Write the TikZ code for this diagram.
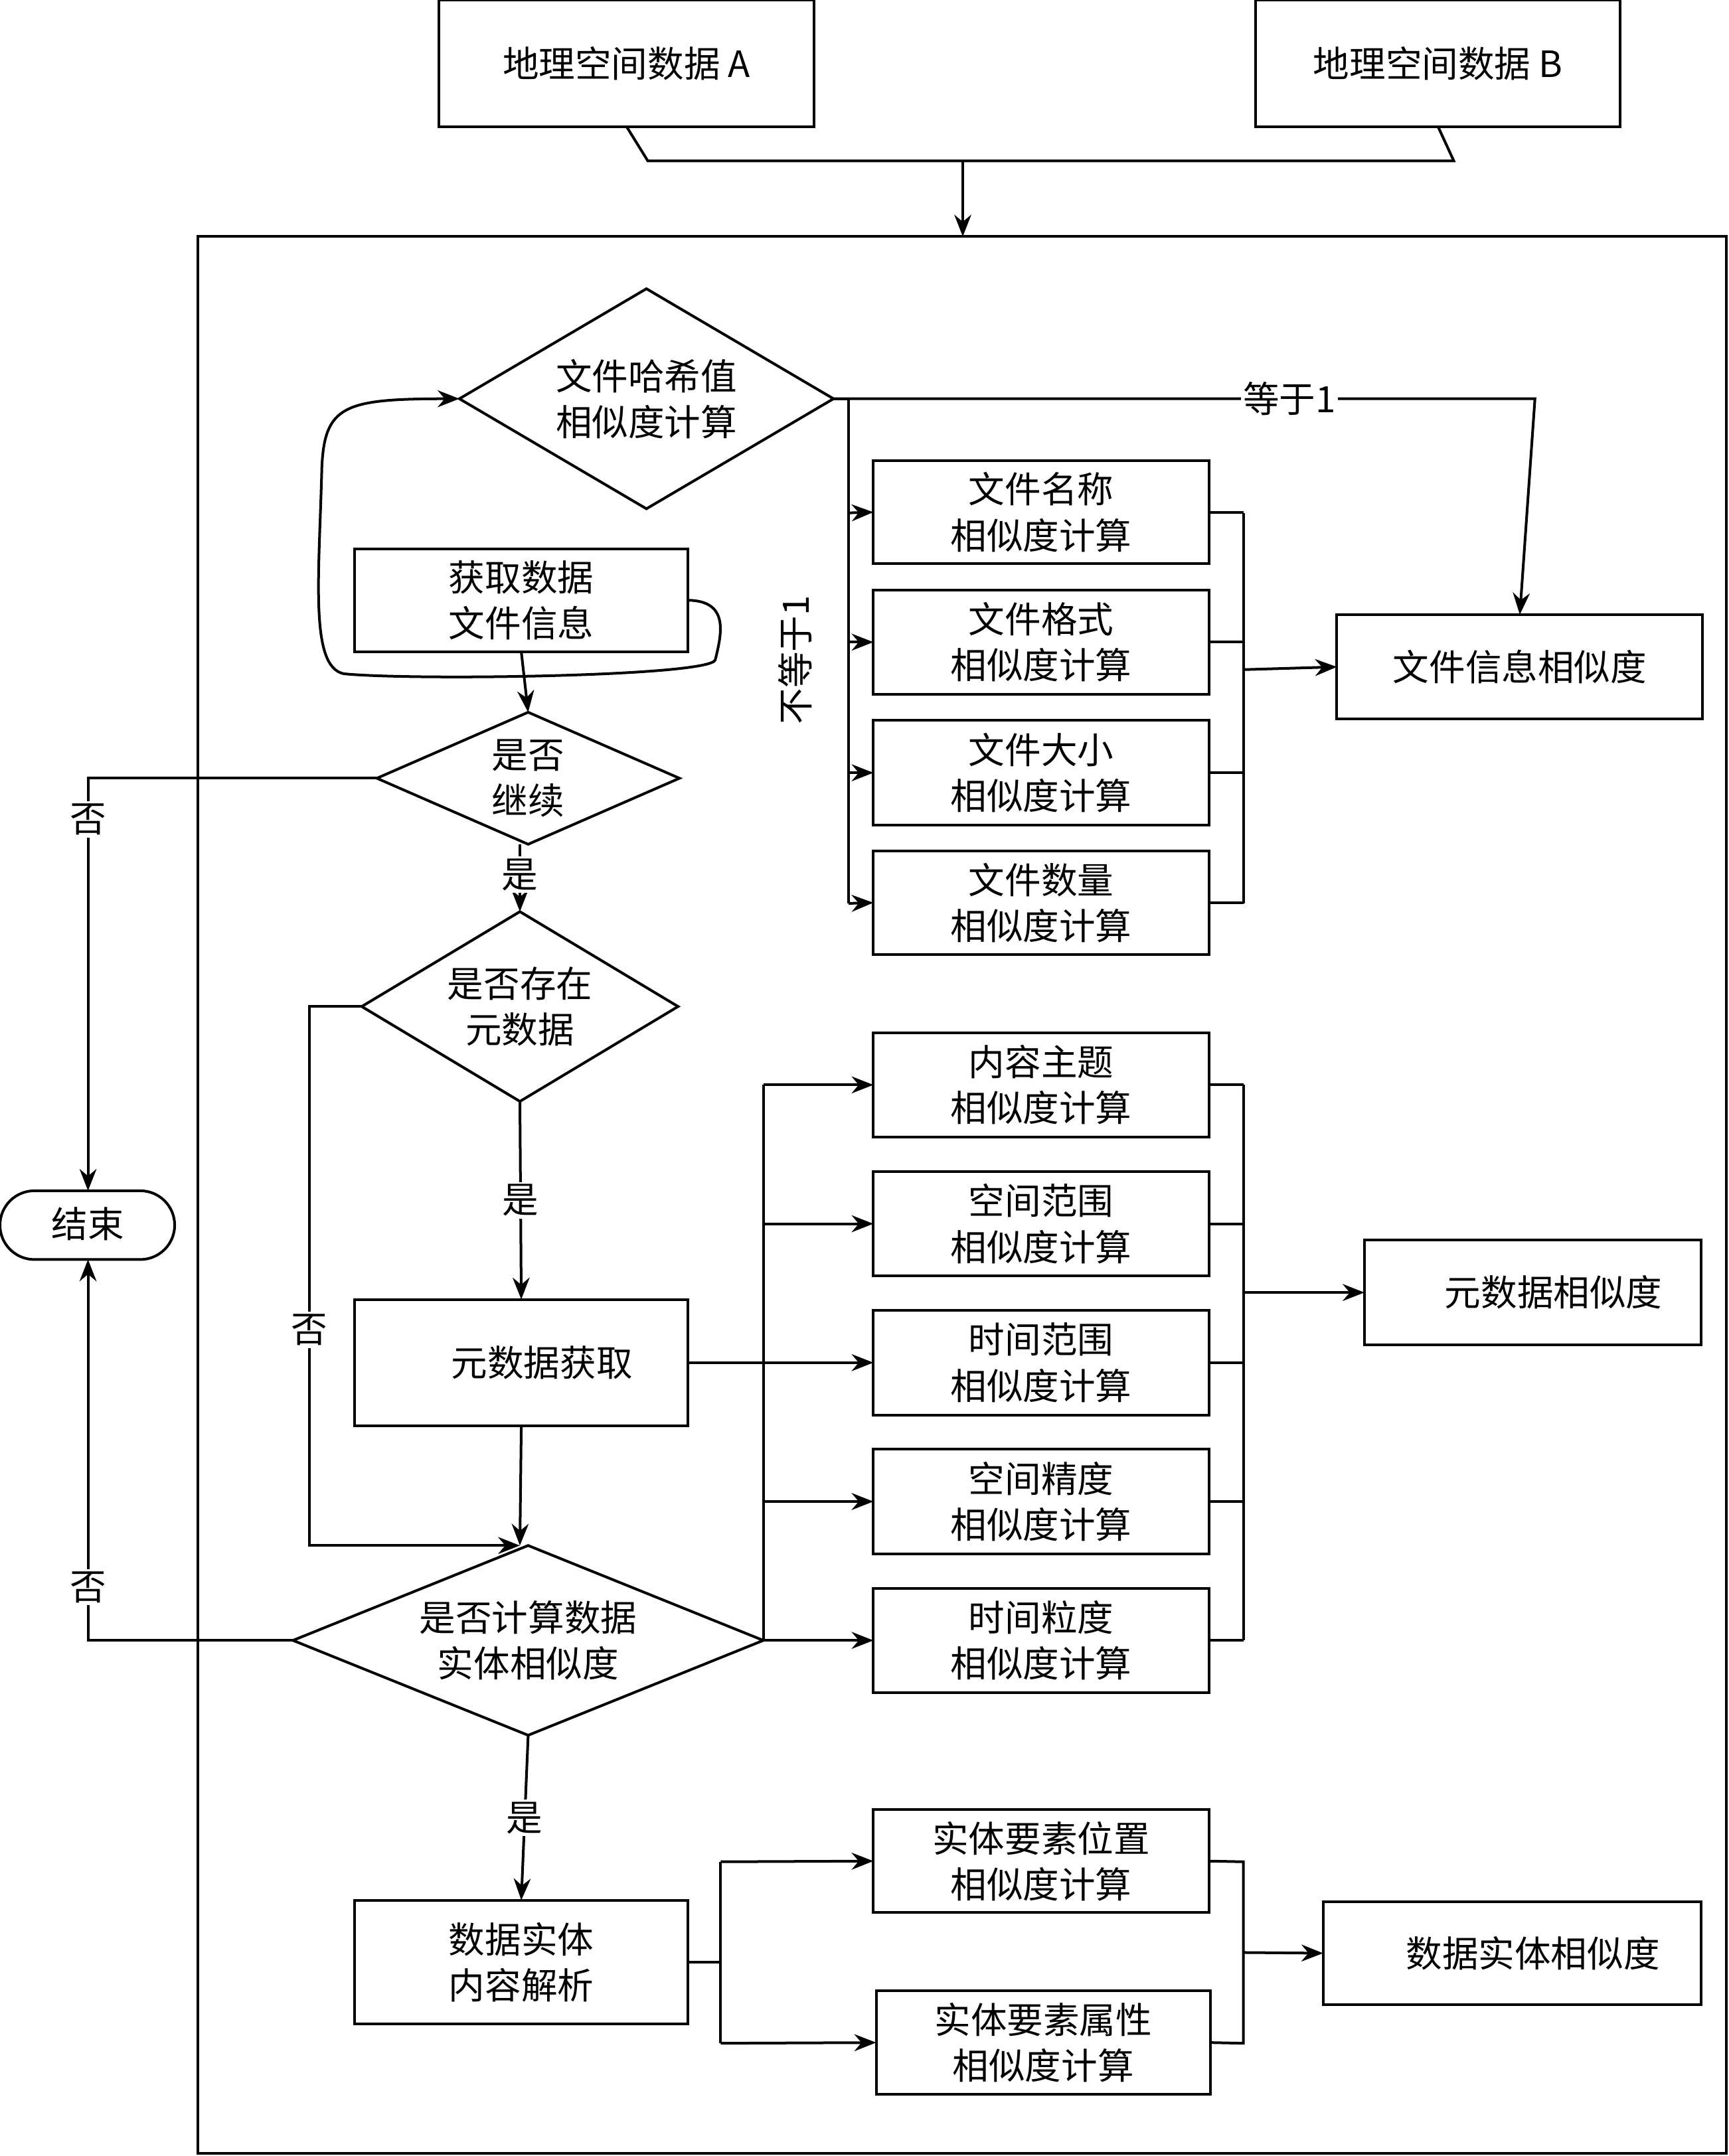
\documentclass[tikz,border=0pt]{standalone}
\usepackage{fontspec}
\setmainfont{Liberation Serif}
\newfontfamily\cjk{Noto Sans CJK SC}
\usetikzlibrary{arrows.meta}
\begin{document}
\begin{tikzpicture}[x=0.02cm,y=-0.02cm,
  every node/.style={font=\cjk\fontsize{15}{19}\selectfont, align=center},
  ln/.style={line width=1.1pt},
  ar/.style={ln,-{Stealth[length=9pt,width=7pt]}},
  lab/.style={fill=white,inner sep=1pt}]
\useasboundingbox (0,0) rectangle (1257,1568);
\newcommand{\bx}[6]{\draw[ln] (#2,#3) rectangle (#4,#5); \node (#1) at ({(#2+#4)/2},{(#3+#5)/2}) {#6};
  \coordinate (#1L) at (#2,{(#3+#5)/2}); \coordinate (#1R) at (#4,{(#3+#5)/2});
  \coordinate (#1T) at ({(#2+#4)/2},#3); \coordinate (#1B) at ({(#2+#4)/2},#5);}
\newcommand{\dm}[6]{\draw[ln] (#2-#4,#3) -- (#2,#3-#5) -- (#2+#4,#3) -- (#2,#3+#5) -- cycle;
  \node (#1) at (#2,#3) {#6};
  \coordinate (#1L) at (#2-#4,#3); \coordinate (#1R) at (#2+#4,#3);
  \coordinate (#1T) at (#2,#3-#5); \coordinate (#1B) at (#2,#3+#5);}
% top
\bx{A}{319}{0}{592}{92}{地理空间数据 A}
\bx{B}{913}{0}{1178}{92}{地理空间数据 B}
\draw[ln] (AB) -- (471,117) -- (1057,117) -- (BB);
\coordinate (ft) at (700,172);
\draw[ar] (700,117) -- (ft);
\draw[ln] (144,172) rectangle (1255,1566);
% diamond 1
\dm{d1}{470}{290}{136}{80}{文件哈希值\\相似度计算}
\bx{g}{258}{399}{500}{474}{获取数据\\文件信息}
\draw[ar] (gR) .. controls (530,437) and (525,460) .. (520,480) .. controls (515,492) and (300,495) .. (250,490)
  .. controls (225,485) and (232,420) .. (234,340) .. controls (236,295) and (250,290) .. (d1L);
\dm{d2}{384}{566}{110}{48}{是否\\继续}
\draw[ar] (gB) -- (d2T);
% end
\draw[ln,rounded corners=25*0.02cm] (0,866) rectangle (127,916);
\node (end) at (64,890) {结束};
\coordinate (endT) at (64,866); \coordinate (endB) at (64,916);
\draw[ar] (d2L) -- (64,566) -- node[lab,pos=0.1]{否} (endT);
\dm{d3}{378}{732}{115}{69}{是否存在\\元数据}
\draw[ar] (378,614) -- node[lab,pos=0.45]{是} (d3T);
\bx{m}{258}{945}{500}{1037}{\hspace{0.6cm}元数据获取}
\draw[ar] (d3B) -- node[lab]{是} (mT);
\dm{d4}{384}{1193}{171}{69}{是否计算数据\\实体相似度}
\draw[ar] (mB) -- (378,1124);
\draw[ar] (d3L) -- (225,732) -- node[lab,pos=0.6]{否} (225,1124) -- (378,1124);
\draw[ar] (d4L) -- (64,1193) -- node[lab,pos=0.14]{否} (endB);
\bx{e}{258}{1382}{500}{1472}{数据实体\\内容解析}
\draw[ar] (d4B) -- node[lab]{是} (eT);
% top group
\bx{f1}{635}{335}{879}{410}{文件名称\\相似度计算}
\bx{f2}{635}{429}{879}{505}{文件格式\\相似度计算}
\bx{f3}{635}{524}{879}{600}{文件大小\\相似度计算}
\bx{f4}{635}{619}{879}{694}{文件数量\\相似度计算}
\bx{fs}{972}{447}{1238}{523}{文件信息相似度}
\draw[ar] (d1R) -- node[lab,pos=0.65]{等于1} (1116,290) -- (fsT);
\draw[ln] (d1R) -- (617,290) -- (617,657);
\foreach \i/\y in {1/373,2/467,3/562,4/657} \draw[ar] (617,\y) -- (f\i L);
\node[rotate=90] at (578,480) {不等于1};
\foreach \i in {1,...,4} \draw[ln] (f\i R) -- (904,0|-f\i R);
\draw[ln] (904,373) -- (904,657);
\draw[ar] (904,487) -- (fsL);
% middle group
\bx{c1}{635}{751}{879}{827}{内容主题\\相似度计算}
\bx{c2}{635}{852}{879}{928}{空间范围\\相似度计算}
\bx{c3}{635}{953}{879}{1029}{时间范围\\相似度计算}
\bx{c4}{635}{1054}{879}{1130}{空间精度\\相似度计算}
\bx{c5}{635}{1155}{879}{1231}{时间粒度\\相似度计算}
\bx{ms}{992}{902}{1237}{978}{\hspace{0.6cm}元数据相似度}
\draw[ln] (d4R) -- (555,1193) -- (555,789);
\draw[ar] (mR) -- (c3L);
\foreach \i/\y in {1/789,2/890,4/1092,5/1193} \draw[ar] (555,\y) -- (c\i L);
\foreach \i in {1,...,5} \draw[ln] (c\i R) -- (904,0|-c\i R);
\draw[ln] (904,789) -- (904,1193);
\draw[ar] (904,940) -- (msL);
% bottom group
\bx{p1}{635}{1316}{879}{1391}{实体要素位置\\相似度计算}
\bx{p2}{637}{1448}{880}{1523}{实体要素属性\\相似度计算}
\bx{ps}{962}{1383}{1237}{1458}{\hspace{0.6cm}数据实体相似度}
\draw[ln] (eR) -- (524,1427);
\draw[ln] (524,1354) -- (524,1486);
\draw[ar] (524,1354) -- (p1L);
\draw[ar] (524,1486) -- (p2L);
\draw[ln] (p1R) -- (904,1354) -- (904,1486) -- (p2R);
\draw[ar] (904,1420) -- (psL);
\end{tikzpicture}
\end{document}
